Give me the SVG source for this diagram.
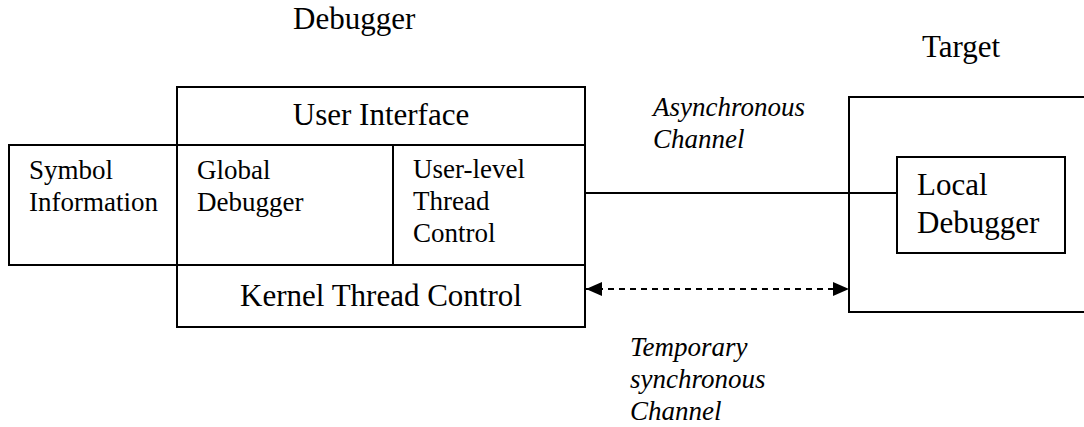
<svg xmlns="http://www.w3.org/2000/svg" width="1084" height="427" viewBox="0 0 1084 427">
  <style>
    .box { fill: none; stroke: #000; stroke-width: 2; }
    .link { fill: none; stroke: #000; stroke-width: 2; }
    .dash { stroke-dasharray: 6 5; }
    text { font-family: 'Liberation Serif', 'Times New Roman', Times, serif; fill: #000; }
    .big { font-size: 31px; }
    .small { font-size: 27px; }
    .note { font-size: 27px; font-style: italic; }
  </style>
  <defs>
    <marker id="arrow" viewBox="0 0 16 16" refX="16" refY="8" markerWidth="16" markerHeight="16" markerUnits="userSpaceOnUse" orient="auto-start-reverse">
      <path d="M0,1 L16,8 L0,15 Z" fill="#000"/>
    </marker>
  </defs>
  <rect width="1084" height="427" fill="#fff"/>

  <!-- section titles -->
  <text class="big" x="293" y="29">Debugger</text>
  <text class="big" x="922" y="57">Target</text>

  <!-- debugger stack -->
  <g id="user-interface">
    <rect class="box" x="177" y="87" width="408" height="58"/>
    <text class="big" x="381" y="125" text-anchor="middle">User Interface</text>
  </g>
  <g id="symbol-information">
    <rect class="box" x="9" y="145" width="168" height="120"/>
    <text class="small" x="29" y="179">Symbol</text>
    <text class="small" x="29" y="211">Information</text>
  </g>
  <g id="global-debugger">
    <rect class="box" x="177" y="145" width="216" height="120"/>
    <text class="small" x="197" y="179">Global</text>
    <text class="small" x="197" y="211">Debugger</text>
  </g>
  <g id="user-level-thread-control">
    <rect class="box" x="393" y="145" width="192" height="120"/>
    <text class="small" x="413" y="178">User-level</text>
    <text class="small" x="413" y="210">Thread</text>
    <text class="small" x="413" y="242">Control</text>
  </g>
  <g id="kernel-thread-control">
    <rect class="box" x="177" y="265" width="408" height="62"/>
    <text class="big" x="381" y="306" text-anchor="middle">Kernel Thread Control</text>
  </g>

  <!-- target side -->
  <g id="target">
    <rect class="box" x="849" y="97" width="300" height="215"/>
  </g>
  <g id="local-debugger">
    <rect class="box" x="897" y="157" width="168" height="96"/>
    <text class="big" x="917" y="195">Local</text>
    <text class="big" x="917" y="233">Debugger</text>
  </g>

  <!-- channels -->
  <g id="connectors">
    <line class="link" x1="585" y1="193" x2="897" y2="193"/>
    <line class="link dash" x1="586" y1="289" x2="849" y2="289" marker-start="url(#arrow)" marker-end="url(#arrow)"/>
  </g>

  <g id="channel-labels">
    <text class="note" x="653" y="116">Asynchronous</text>
    <text class="note" x="653" y="148">Channel</text>
    <text class="note" x="630" y="356">Temporary</text>
    <text class="note" x="630" y="388">synchronous</text>
    <text class="note" x="630" y="420">Channel</text>
  </g>
</svg>
